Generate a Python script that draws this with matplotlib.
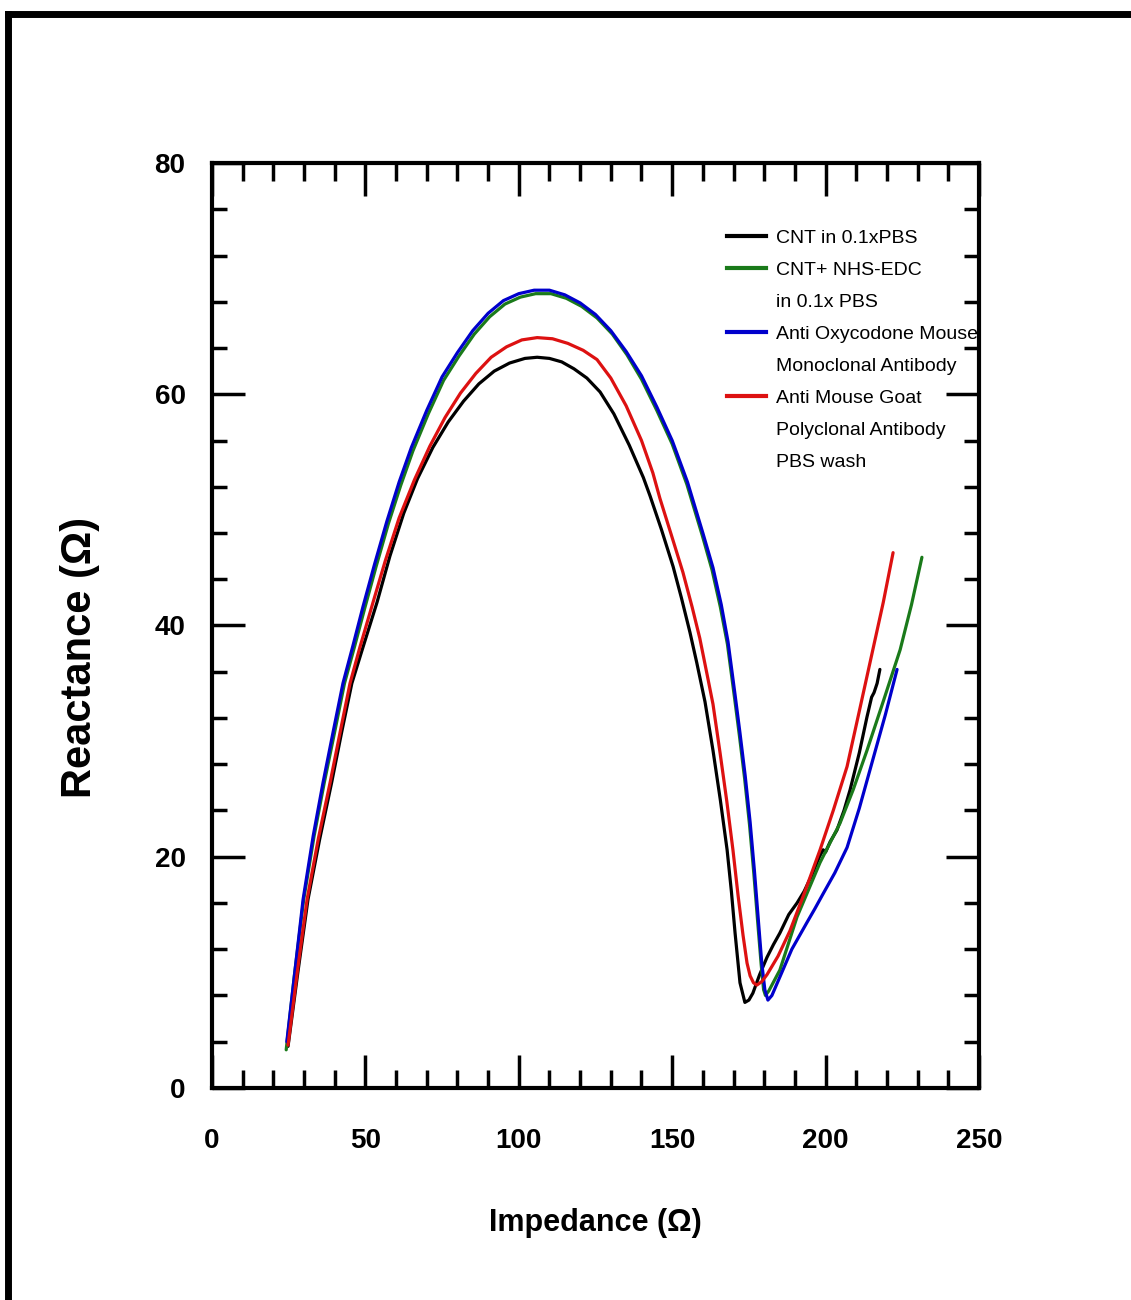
import matplotlib
matplotlib.use("Agg")
import matplotlib.pyplot as plt
from matplotlib.lines import Line2D
from matplotlib.ticker import MultipleLocator

# ---------------- data ----------------
black_x = [24.8, 28.0, 31.3, 35.1, 39.0, 42.3, 45.6, 49.2, 53.8, 58.0, 62.5, 67.0, 72.0,
           77.0, 82.0, 87.0, 92.0, 97.0, 102.0, 106.0, 110.0, 114.0, 118.0, 122.2,
           126.5, 131.0, 136.0, 140.6, 142.8, 146.5, 150.3, 153.0, 155.8, 158.0, 160.7,
           163.3, 165.7, 167.9, 169.3, 170.5, 172.1, 173.7, 175.0, 176.3, 178.5, 180.9,
           183.0, 185.1, 188.0, 190.7, 193.0, 195.5, 198.0, 199.2, 200.0, 201.5, 203.7,
           206.0, 208.0, 211.0, 213.5, 215.0, 215.8, 216.8, 217.7]
black_y = [3.6, 10.0, 16.3, 21.5, 26.4, 30.8, 35.0, 38.1, 42.0, 46.0, 49.7, 52.7, 55.4,
           57.6, 59.4, 60.9, 62.0, 62.7, 63.1, 63.2, 63.1, 62.8, 62.2, 61.4,
           60.2, 58.3, 55.6, 52.8, 51.2, 48.3, 45.1, 42.4, 39.4, 36.8, 33.4,
           29.2, 24.9, 20.6, 17.0, 13.4, 9.1, 7.4, 7.6, 8.2, 9.8, 11.3,
           12.4, 13.4, 15.0, 16.0, 17.0, 18.4, 20.0, 20.6, 20.4, 21.3, 22.3,
           24.0, 25.8, 29.0, 32.1, 33.8, 34.2, 35.0, 36.2]

green_x = [24.2, 26.9, 29.9, 33.3, 36.6, 40.0, 43.2, 46.5, 49.8, 53.5, 57.5, 61.5, 65.5,
           70.5, 75.5, 80.5, 85.5, 90.5, 95.5, 100.5, 105.5, 110.5, 115.5, 120.5, 125.5,
           130.5, 135.3, 140.0, 145.0, 150.0, 154.8, 159.8, 163.0, 165.7, 168.0, 170.3,
           171.9, 173.6, 175.2, 176.6, 177.8, 179.0, 179.8, 180.4, 181.5, 185.1, 190.7,
           198.2, 204.7, 209.0, 213.5, 219.0, 224.3, 228.0, 231.4]
green_y = [3.3, 9.8, 16.3, 21.8, 26.4, 30.8, 35.0, 38.2, 41.5, 45.1, 48.8, 52.1, 55.1,
           58.3, 61.2, 63.3, 65.2, 66.7, 67.8, 68.4, 68.7, 68.7, 68.3, 67.6, 66.6,
           65.2, 63.4, 61.3, 58.6, 55.7, 52.2, 47.8, 44.8, 41.6, 38.4, 33.8,
           30.5, 26.8, 22.8, 18.6, 14.6, 10.7, 8.5, 8.0, 8.4, 10.2, 14.8,
           19.5, 22.9, 25.8, 29.2, 33.6, 37.9, 41.8, 45.9]

blue_x = [24.4, 27.0, 29.7, 33.0, 36.2, 39.5, 42.7, 46.0, 49.2, 53.0, 57.0, 61.0, 65.0,
          70.0, 75.0, 80.0, 85.0, 90.0, 95.0, 100.0, 105.0, 110.0, 115.0, 120.0, 125.0,
          130.0, 135.0, 140.0, 145.0, 150.0, 155.0, 160.0, 163.3, 166.0, 168.2, 170.5,
          172.1, 173.8, 175.4, 176.8, 178.0, 179.2, 180.2, 181.2, 182.5, 185.1, 189.0,
          193.9, 196.5, 199.2, 203.0, 207.0, 211.0, 215.4, 219.5, 223.3]
blue_y = [4.0, 10.0, 16.3, 21.8, 26.4, 30.8, 35.0, 38.3, 41.6, 45.3, 49.0, 52.4, 55.4,
          58.6, 61.5, 63.6, 65.5, 67.0, 68.1, 68.7, 69.0, 69.0, 68.6, 67.9, 66.9,
          65.5, 63.7, 61.6, 58.9, 56.0, 52.4, 48.0, 45.0, 41.8, 38.6, 34.0,
          30.7, 27.0, 23.0, 18.8, 14.8, 10.8, 8.5, 7.6, 8.0, 9.6, 12.0,
          14.3, 15.5, 16.8, 18.6, 20.8, 24.2, 28.4, 32.3, 36.2]

red_x = [24.8, 27.8, 31.0, 34.7, 38.5, 41.8, 45.0, 48.2, 52.5, 56.5, 61.0, 66.0, 71.0,
         76.0, 81.0, 86.0, 91.0, 96.0, 101.0, 106.0, 111.0, 116.0, 121.0, 125.5, 130.0,
         135.0, 140.0, 143.7, 146.0, 150.0, 153.5, 156.5, 159.0, 161.5, 163.3, 165.6,
         167.8, 169.8, 171.5, 173.1, 174.4, 175.4, 176.5, 177.6, 179.2, 180.9, 184.5,
         188.4, 193.0, 198.2, 202.5, 207.0, 211.0, 215.4, 218.8, 222.0]
red_y = [3.7, 10.0, 16.3, 21.6, 26.4, 30.8, 35.0, 38.1, 42.0, 45.6, 49.3, 52.6, 55.5,
         58.0, 60.1, 61.8, 63.2, 64.1, 64.7, 64.9, 64.8, 64.4, 63.8, 63.0, 61.4,
         59.0, 56.0, 53.2, 51.0, 47.6, 44.6, 41.6, 38.9, 35.6, 33.2, 29.0,
         24.8, 20.6, 16.6, 13.2, 10.8, 9.7, 9.1, 8.9, 9.2, 9.8, 11.4,
         13.6, 16.8, 20.6, 24.0, 27.8, 32.6, 37.9, 42.0, 46.3]

series_names = ["CNT in 0.1xPBS", "CNT+ NHS-EDC", "Anti Oxycodone Mouse", "Anti Mouse Goat"]
continuation = {"CNT+ NHS-EDC": ["in 0.1x PBS"],
                "Anti Oxycodone Mouse": ["Monoclonal Antibody"],
                "Anti Mouse Goat": ["Polyclonal Antibody", "PBS wash"]}
colors = ["#000000", "#1a7a1a", "#0000cc", "#dd1111"]

x_ticks = [0, 50, 100, 150, 200, 250]
y_ticks = [0, 20, 40, 60, 80]

font = "Liberation Sans"

fig = plt.figure(figsize=(11.31, 13.0), dpi=100)
ax = fig.add_axes([0.1874, 0.1631, 0.8656 - 0.1874, 0.8746 - 0.1631])

xs = [black_x, green_x, blue_x, red_x]
ys = [black_y, green_y, blue_y, red_y]
for name, c, x, y in zip(series_names, colors, xs, ys):
    ax.plot(x, y, color=c, lw=2.3, solid_joinstyle="round", solid_capstyle="round")

handles = []
labels = []
for name, c in zip(series_names, colors):
    handles.append(Line2D([], [], color=c, lw=3))
    labels.append(name)
    for extra in continuation.get(name, []):
        handles.append(Line2D([], [], color="none", lw=0))
        labels.append(extra)

ax.set_xlim(0, 250)
ax.set_ylim(0, 80)
ax.set_xticks(x_ticks)
ax.set_yticks(y_ticks)
ax.xaxis.set_minor_locator(MultipleLocator(10))
ax.yaxis.set_minor_locator(MultipleLocator(4))
ax.tick_params(which="both", direction="in", top=True, right=True, width=2.5, color="black")
ax.tick_params(axis="x", which="major", length=24, pad=29)
ax.tick_params(axis="x", which="minor", length=13)
ax.tick_params(axis="y", which="major", length=24, pad=19)
ax.tick_params(axis="y", which="minor", length=11)
for s in ax.spines.values():
    s.set_linewidth(3)
for lab in ax.get_xticklabels() + ax.get_yticklabels():
    lab.set_fontfamily(font)
    lab.set_fontweight("bold")
    lab.set_fontsize(20)

ax.set_xlabel("Impedance (Ω)", fontfamily=font, fontweight="bold", fontsize=22, labelpad=39)
ax.set_ylabel("Reactance (Ω)", fontfamily=font, fontweight="bold", fontsize=30)
ax.yaxis.set_label_coords(-0.146, 0.466)

ax.legend(handles, labels, loc="upper left", bbox_to_anchor=(0.672, 0.928),
          frameon=False, prop={"family": font, "size": 14},
          handlelength=2.0, handletextpad=0.5, labelspacing=0.74, borderpad=0.0,
          borderaxespad=0.0)

# figure border (top and left edges visible)
fig.add_artist(Line2D([0.007, 1.0], [0.9895, 0.9895], transform=fig.transFigure,
                      color="black", lw=5, solid_capstyle="projecting"))
fig.add_artist(Line2D([0.007, 0.007], [0.0, 0.9895], transform=fig.transFigure,
                      color="black", lw=5, solid_capstyle="projecting"))

fig.savefig("out.png", dpi=100, facecolor="white")
